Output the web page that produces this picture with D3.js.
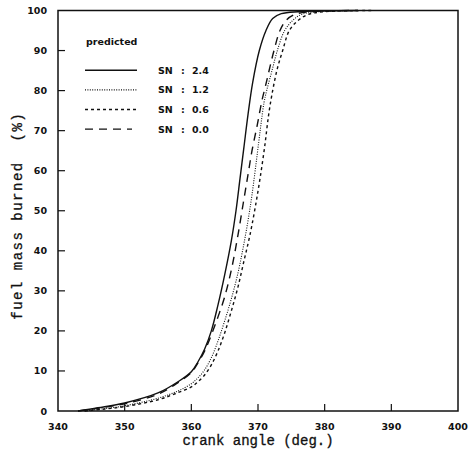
<!DOCTYPE html>
<html>
<head>
<meta charset="utf-8">
<script src="https://cdn.jsdelivr.net/npm/d3@7"></script>
<style>
  body { margin: 0; background: #fff; }
  .tick-label { font-family: "DejaVu Sans", sans-serif; font-weight: bold; font-size: 9.5px; fill: #111; }
  .axis-title { font-family: "Liberation Mono", monospace; font-size: 14px; fill: #111; stroke: #111; stroke-width: 0.3px; }
  .legend-text { font-family: "DejaVu Sans", sans-serif; font-weight: bold; font-size: 9.5px; fill: #111; }
</style>
</head>
<body>
<svg id="chart" width="468" height="454"></svg>
<script>
// series: crank angle (deg) and fuel mass burned (%)
const sn24x = [343, 346, 350, 355, 358, 360, 361, 362, 363, 364, 365, 366, 366.7, 367.3, 367.9, 368.5, 369.2, 370.2, 371.2, 372.2, 373.5, 376, 385];
const sn24y = [0, 0.8, 2, 4.5, 7.3, 9.8, 12.3, 15.5, 20, 26.5, 34, 42.5, 50, 58, 66, 74, 82, 90, 95, 98, 99.2, 99.7, 100];

const sn12x = [344, 347, 350, 355, 358, 360, 361, 362, 363, 364, 365, 366, 367, 367.8, 368.5, 369.1, 369.8, 370.4, 370.9, 371.3, 372.1, 372.9, 374, 375.2, 376.5, 379, 386];
const sn12y = [0, 0.6, 1.3, 3.2, 5, 6.8, 8.3, 10.3, 13.3, 17.5, 22.5, 28, 34.5, 41, 47.5, 54, 63, 71, 77, 80, 85, 90, 95, 97.5, 99, 99.7, 100];

const sn06x = [344, 347, 350, 355, 358, 360, 361, 362, 363, 364, 365, 366, 367, 367.9, 368.8, 369.6, 370.3, 371, 371.6, 372.2, 372.9, 373.7, 374.7, 376, 377.5, 380, 387];
const sn06y = [0, 0.5, 1.1, 2.8, 4.6, 6, 7.3, 9, 11.5, 15, 19.5, 25, 31, 37.5, 44, 51, 58, 66, 74, 80, 85.5, 90, 95, 97.5, 99, 99.7, 100];

const sn00x = [343, 346, 350, 355, 358, 360, 361, 362, 363, 364, 365, 366.1, 367, 367.8, 368.5, 369.1, 369.9, 370.6, 371.1, 372.4, 373.3, 374.3, 375.5, 378, 385];
const sn00y = [0, 0.7, 1.8, 4.2, 7.1, 9.6, 12, 15, 19, 23.5, 28.5, 36, 44, 52, 59, 65, 71.5, 77.6, 81, 90, 95, 97.7, 99, 99.7, 100];

const xTicks = [340, 350, 360, 370, 380, 390, 400];
const yTicks = [0, 10, 20, 30, 40, 50, 60, 70, 80, 90, 100];
const legendLabels = ["2.4", "1.2", "0.6", "0.0"];

const svg = d3.select("#chart");
const margin = { top: 10.5, right: 10, bottom: 43, left: 58 };
const width = +svg.attr("width");
const height = +svg.attr("height");

const x = d3.scaleLinear().domain([340, 400]).range([margin.left, width - margin.right]);
const y = d3.scaleLinear().domain([0, 100]).range([height - margin.bottom, margin.top]);

const series = [
  { xs: sn24x, ys: sn24y, dash: null },
  { xs: sn12x, ys: sn12y, dash: "1,1.4" },
  { xs: sn06x, ys: sn06y, dash: "3,3" },
  { xs: sn00x, ys: sn00y, dash: "8,6" }
];

const line = d3.line()
  .x(d => x(d[0]))
  .y(d => y(d[1]))
  .curve(d3.curveCatmullRom);

series.forEach(s => {
  const pts = s.xs.map((v, i) => [v, s.ys[i]]);
  svg.append("path")
    .datum(pts)
    .attr("d", line)
    .attr("fill", "none")
    .attr("stroke", "#111")
    .attr("stroke-width", s.dash === "1,1.4" ? 1.1 : 1.4)
    .attr("stroke-dasharray", s.dash);
});

// frame
svg.append("rect")
  .attr("x", x(340)).attr("y", y(100))
  .attr("width", x(400) - x(340)).attr("height", y(0) - y(100))
  .attr("fill", "none").attr("stroke", "#111").attr("stroke-width", 1.5);

// ticks pointing inward
const g = svg.append("g");
g.selectAll("line.xt").data(xTicks.slice(1, -1)).join("line")
  .attr("x1", d => x(d)).attr("x2", d => x(d))
  .attr("y1", y(0)).attr("y2", y(0) - 7)
  .attr("stroke", "#111").attr("stroke-width", 1.2);
g.selectAll("line.yt").data(yTicks.slice(1, -1)).join("line")
  .attr("x1", x(340)).attr("x2", x(340) + 7)
  .attr("y1", d => y(d)).attr("y2", d => y(d))
  .attr("stroke", "#111").attr("stroke-width", 1.2);

g.selectAll("text.xl").data(xTicks).join("text")
  .attr("class", "tick-label")
  .attr("x", d => x(d)).attr("y", y(0) + 18.5)
  .attr("text-anchor", "middle")
  .text(d => d);
g.selectAll("text.yl").data(yTicks).join("text")
  .attr("class", "tick-label")
  .attr("x", x(340) - 11).attr("y", d => y(d) + 3.5)
  .attr("text-anchor", "end")
  .text(d => d);

// axis titles
svg.append("text")
  .attr("class", "axis-title")
  .attr("x", (x(340) + x(400)) / 2).attr("y", 445)
  .attr("text-anchor", "middle")
  .text("crank angle (deg.)");
svg.append("text")
  .attr("class", "axis-title")
  .attr("transform", `translate(22,${(y(0) + y(100)) / 2 + 5}) rotate(-90)`)
  .attr("text-anchor", "middle")
  .style("letter-spacing", "1.5px")
  .attr("xml:space", "preserve")
  .text("fuel mass burned  (%)");

// legend
const legend = svg.append("g");
legend.append("text")
  .attr("class", "legend-text")
  .attr("x", 86).attr("y", 45)
  .text("predicted");
series.forEach((s, i) => {
  const ly = 70.3 + i * 19.6;
  legend.append("line")
    .attr("x1", 85).attr("x2", i === 3 ? 132 : 137)
    .attr("y1", ly).attr("y2", ly)
    .attr("stroke", "#111")
    .attr("stroke-width", s.dash === "1,1.4" ? 1.1 : 1.4)
    .attr("stroke-dasharray", s.dash);
  legend.append("text").attr("class", "legend-text")
    .attr("x", 158).attr("y", ly + 3.5).text("SN");
  legend.append("text").attr("class", "legend-text")
    .attr("x", 181).attr("y", ly + 3.5).text(":");
  legend.append("text").attr("class", "legend-text")
    .attr("x", 192).attr("y", ly + 3.5).text(legendLabels[i]);
});
</script>
</body>
</html>
